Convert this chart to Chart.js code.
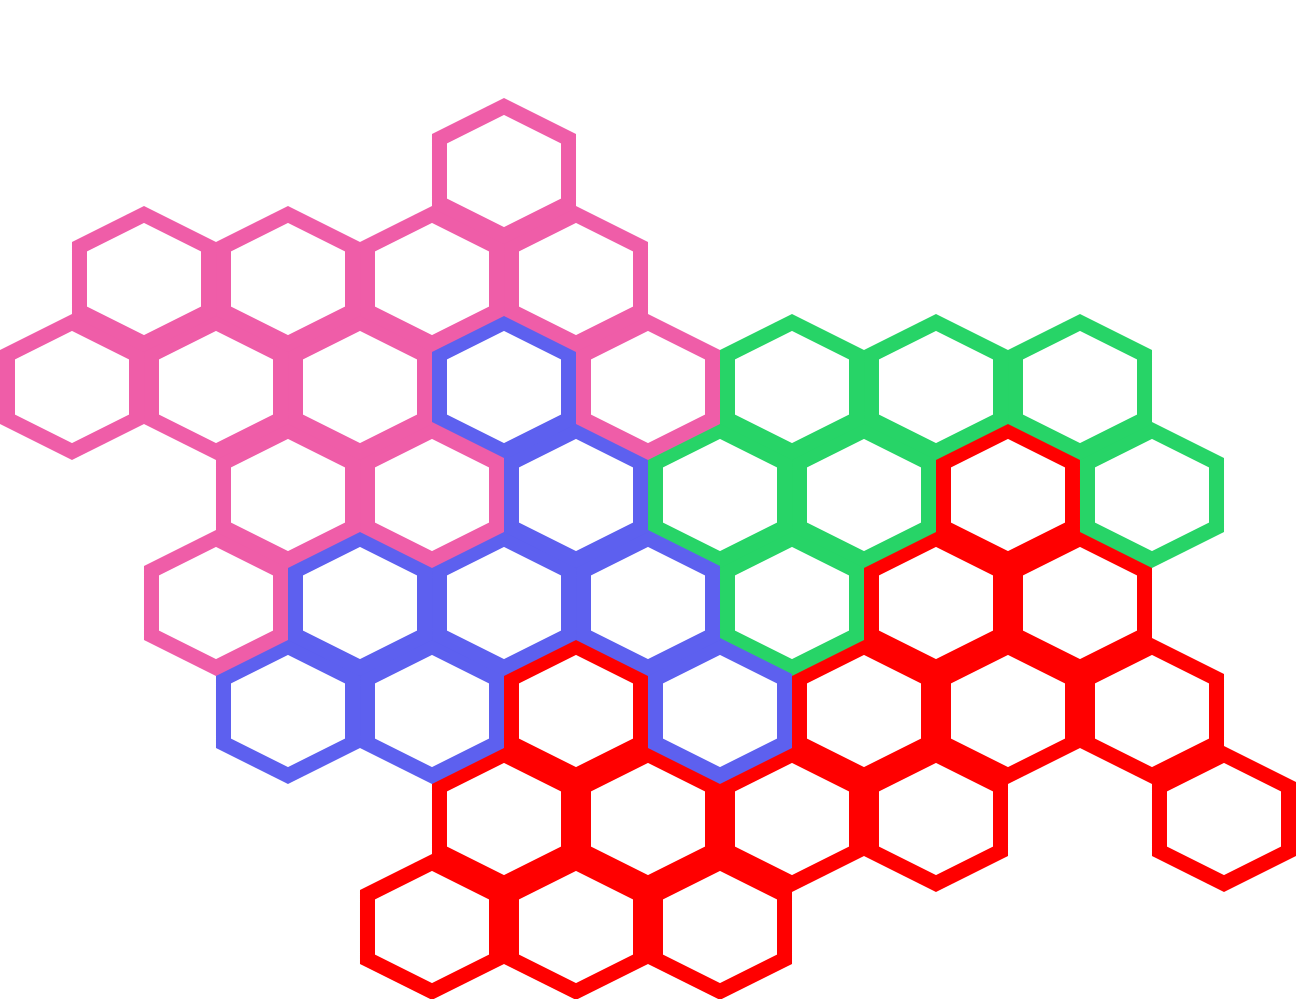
<!DOCTYPE html>
<html>
<head>
<meta charset="utf-8">
<script src="https://cdn.jsdelivr.net/npm/chart.js@4/dist/chart.umd.min.js"></script>
<style>
  html, body { margin: 0; padding: 0; background: #fff; }
  #wrap { width: 1296px; height: 999px; }
</style>
</head>
<body>
<div id="wrap"><canvas id="hexChart"></canvas></div>
<script>
// hex cells: column in half-hex steps, row index (top = 0)
const pinkCols  = [6, 1, 3, 5, 7, 0, 2, 4, 8, 3, 5, 2];
const pinkRows  = [0, 1, 1, 1, 1, 2, 2, 2, 2, 3, 3, 4];
const blueCols  = [6, 7, 4, 6, 8, 3, 5, 9];
const blueRows  = [2, 3, 4, 4, 4, 5, 5, 5];
const greenCols = [10, 12, 14, 9, 11, 15, 10];
const greenRows = [2, 2, 2, 3, 3, 3, 4];
const redCols   = [13, 12, 14, 7, 11, 13, 15, 6, 8, 10, 12, 16, 5, 7, 9];
const redRows   = [3, 4, 4, 5, 5, 5, 5, 6, 6, 6, 6, 6, 7, 7, 7];

const groups = [
  { cols: pinkCols,  rows: pinkRows,  color: '#EF5DA8' },
  { cols: blueCols,  rows: blueRows,  color: '#5D60EF' },
  { cols: greenCols, rows: greenRows, color: '#27D467' },
  { cols: redCols,   rows: redRows,   color: '#FF0000' }
];

// hexagon outline around a cell centre (data units), shrunk so the stroke stays inside the cell
const k = 0.896;
const hw = 1 * k;        // half width in columns
const hh = (2 / 3) * k;  // half height in rows
function hexPath(cx, cy) {
  return [
    { x: cx - hw, y: cy },
    { x: cx - hw, y: cy - hh / 2 },
    { x: cx,      y: cy - hh },
    { x: cx + hw, y: cy - hh / 2 },
    { x: cx + hw, y: cy + hh / 2 },
    { x: cx,      y: cy + hh },
    { x: cx - hw, y: cy + hh / 2 },
    { x: cx - hw, y: cy }
  ];
}

const datasets = [];
groups.forEach(function (g) {
  for (let i = 0; i < g.cols.length; i++) {
    datasets.push({
      data: hexPath(g.cols[i], g.rows[i]),
      showLine: true,
      borderColor: g.color,
      borderWidth: 15,
      borderJoinStyle: 'miter',
      borderCapStyle: 'butt',
      pointRadius: 0,
      pointHoverRadius: 0,
      tension: 0,
      fill: false
    });
  }
});

new Chart(document.getElementById('hexChart'), {
  type: 'scatter',
  data: { datasets: datasets },
  options: {
    responsive: true,
    maintainAspectRatio: false,
    animation: false,
    layout: { padding: 0 },
    plugins: { legend: { display: false }, tooltip: { enabled: false } },
    scales: {
      x: { type: 'linear', min: -1, max: 17, display: false },
      y: { type: 'linear', min: -19 / 12, max: 23 / 3, reverse: true, display: false }
    }
  }
});
</script>
</body>
</html>
